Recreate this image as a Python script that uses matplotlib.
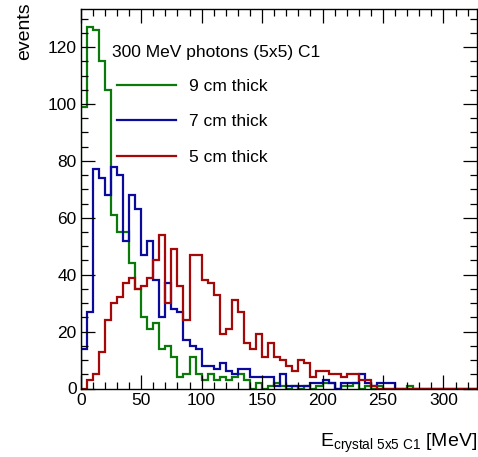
import numpy as np
import matplotlib
matplotlib.use("Agg")
import matplotlib.pyplot as plt
from matplotlib.lines import Line2D
from matplotlib.ticker import MultipleLocator

plt.rcParams['font.family'] = ['Liberation Sans', 'DejaVu Sans']
plt.rcParams['mathtext.fontset'] = 'custom'
plt.rcParams['mathtext.rm'] = 'Liberation Sans'
plt.rcParams['mathtext.it'] = 'Liberation Sans:italic'
plt.rcParams['mathtext.bf'] = 'Liberation Sans:bold'

# ---- data: 5 MeV bins from 0 to 330 MeV ----
bin_width = 5
x_max_range = 330

green_9cm = [99, 127, 126, 115, 105, 61, 55, 55, 44, 35,
             25, 21, 23, 14, 15, 11, 4, 5, 11, 5,
             3, 5, 3, 4, 3, 4, 5, 3, 0, 2,
             0, 1, 2, 1, 0, 1, 0, 1, 0, 1,
             2, 2, 0, 1, 1, 2, 0, 1, 0, 1,
             0, 0, 0, 0, 1, 0, 0, 0, 0, 0,
             0, 0, 0, 0, 0, 0]
blue_7cm = [14, 27, 77, 74, 68, 78, 75, 52, 68, 63,
            47, 52, 38, 25, 37, 28, 27, 17, 15, 14,
            8, 8, 7, 9, 6, 5, 7, 7, 4, 4,
            4, 4, 1, 5, 1, 1, 1, 1, 2, 2,
            3, 2, 0, 2, 2, 2, 5, 2, 1, 2,
            2, 2, 0, 0, 0, 0, 0, 0, 0, 0,
            0, 0, 0, 0, 0, 0]
red_5cm = [0, 3, 5, 13, 24, 30, 32, 37, 39, 35,
           36, 39, 45, 54, 30, 49, 36, 24, 47, 47,
           38, 37, 33, 19, 21, 31, 27, 16, 14, 19,
           11, 16, 11, 10, 8, 6, 10, 9, 4, 6,
           6, 5, 5, 4, 5, 5, 3, 3, 1, 0,
           0, 0, 0, 0, 0, 0, 0, 0, 0, 0,
           0, 0, 0, 0, 0, 0]

labels = ["9 cm thick", "7 cm thick", "5 cm thick"]
colors = ["#0b7a0b", "#0a0a9c", "#a50808"]
legend_title = "300 MeV photons (5x5) C1"

edges = np.arange(0, x_max_range + bin_width, bin_width)

W, H = 478, 457
fig = plt.figure(figsize=(W / 100, H / 100), dpi=100)
x0, x1, y0, y1 = 80.7, 477.3, 388.5, 9.0
ax = fig.add_axes([x0 / W, 1 - y0 / H, (x1 - x0) / W, (y0 - y1) / H])

series = [green_9cm, blue_7cm, red_5cm]
for vals, c in zip(series, colors):
    ax.stairs(np.array(vals, dtype=float), edges, color=c, linewidth=1.6,
              baseline=0)

ax.set_xlim(0, 328)
ax.set_ylim(0, 133.4)

ax.xaxis.set_major_locator(MultipleLocator(50))
ax.xaxis.set_minor_locator(MultipleLocator(10))
ax.yaxis.set_major_locator(MultipleLocator(20))
ax.yaxis.set_minor_locator(MultipleLocator(5))
ax.tick_params(which='both', direction='in', top=True, right=True,
               labelsize=12.5, width=0.9)
ax.tick_params(which='major', length=10, pad=3)
ax.tick_params(which='minor', length=5)
for s in ax.spines.values():
    s.set_linewidth(1.0)

# legend (entries) and its heading
handles = [Line2D([], [], color=c, linewidth=1.6) for c in colors]
ax.legend(handles, labels, loc='upper left',
          bbox_to_anchor=((117 - x0) / (x1 - x0), (y0 - 79.0) / (y0 - y1)),
          frameon=False, fontsize=12.5, handlelength=3.4, handletextpad=0.72,
          labelspacing=1.16, borderpad=0, borderaxespad=0)
ax.text((112 - x0) / (x1 - x0), (y0 - 57) / (y0 - y1), legend_title,
        transform=ax.transAxes, fontsize=12.5, ha='left', va='baseline')

fig.text(25 / W, 1 - 2 / H, "events", rotation=90, ha='center', va='top',
         fontsize=14)
fig.text(477 / W, 1 - 447 / H, r"E$_{\mathrm{crystal\ 5x5\ C1}}$ [MeV]",
         ha='right', va='baseline', fontsize=14)

fig.savefig("out.png", dpi=100)
